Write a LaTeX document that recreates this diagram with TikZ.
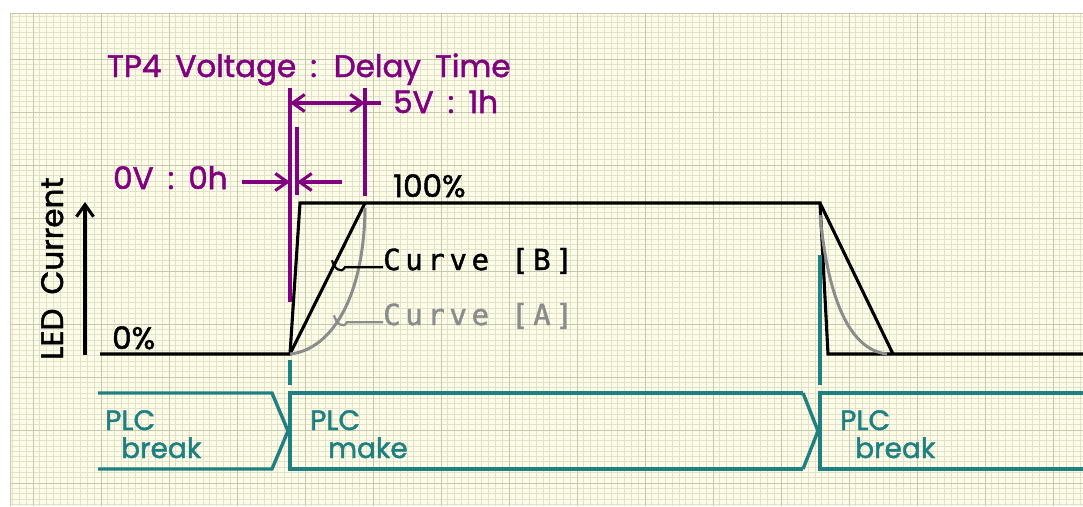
\documentclass[tikz,border=0pt]{standalone}
\usepackage{fontspec}
\setmainfont{Poppins}[FakeBold=1.6, WordSpace=1.7]
\newfontfamily\curvefont{DejaVu Sans Mono}[LetterSpace=16, FakeBold=1.4]
\usetikzlibrary{arrows.meta}
\definecolor{paper}{RGB}{252,252,232}
\definecolor{gridminor}{RGB}{226,226,200}
\definecolor{gridmajor}{RGB}{200,200,174}
\definecolor{dimpurple}{RGB}{128,0,128}
\definecolor{plcteal}{RGB}{30,128,128}
\definecolor{curvegray}{RGB}{140,140,140}
\tikzset{
	lbl/.style={font=\fontsize{31}{34}\selectfont, inner sep=0pt, anchor=base west},
	dimtxt/.style={lbl, text=dimpurple},
	plctxt/.style={lbl, font=\fontsize{28}{31}\selectfont, text=plcteal},
	curvetxt/.style={lbl, font=\curvefont\fontsize{29}{34}\selectfont},
	wave/.style={line width=3.1pt, black},
	slowcurve/.style={line width=3pt, curvegray},
	dimline/.style={line width=3.1pt, dimpurple},
	plcline/.style={line width=3.4pt, plcteal},
	barb/.tip={Straight Barb[length=12pt, width=17pt]}
}
\begin{document}
\begin{tikzpicture}[x=1pt, y=-1pt, line join=miter]
	\useasboundingbox (0,0) rectangle (1083,506);
	% paper
	\fill[paper] (10,13) rectangle (1083,506);
	\foreach \i in {0,...,157} \draw[gridminor, line width=0.8pt] ({12.6+\i*6.8},13) -- ({12.6+\i*6.8},506);
	\foreach \i in {2,...,94} \draw[gridminor, line width=0.8pt] (10,{6+\i*5.3}) -- (1083,{6+\i*5.3});
	\foreach \k in {0,...,15} \draw[gridmajor, line width=1pt] ({33+\k*68},13) -- ({33+\k*68},506);
	\foreach \k in {1,...,9} \draw[gridmajor, line width=1pt] (10,{6+\k*53}) -- (1083,{6+\k*53});
	\draw[gridmajor, line width=1pt] (10,506) |- (1083,13);

	% LED current
	\coordinate (on) at (290,354);
	\coordinate (off) at (820,203);
	\draw[wave] (100,354) -- (on) -- (300,203) -- (off) -- (828,354) -- (1083,354);
	\draw[wave] (on) -- (365,203);
	\draw[wave] (off) -- (893,354);
	\draw[slowcurve] (on) .. controls (330,350) and (364,300) .. (365,208);
	\draw[slowcurve] (820,215) .. controls (828,300) and (850,350) .. (887,354);
	\draw[wave, -barb] (85,355) -- (85,202);
	\node[lbl, rotate=90] (led) at (63,360) {LED Current};
	\node[lbl] (full) at (393,197) {100\%};
	\node[lbl] (zero) at (112,349) {0\%};

	% curve labels
	\node[curvetxt] (cb) at (383,270) {Curve [B]};
	\node[curvetxt, text=curvegray] (ca) at (383,325) {Curve [A]};
	\draw[black, line width=2.2pt] (cb.mid west) -- ++(-38,0) .. controls ++(-4,7) and ++(2,8) .. ++(-13,-7);
	\draw[curvegray, line width=2.2pt] (ca.mid west) -- ++(-36,0) .. controls ++(-4,7) and ++(2,8) .. ++(-13,-7);

	% TP4 voltage / delay
	\node[dimtxt] (tp4) at (107,77) {TP4 Voltage : Delay Time};
	\node[dimtxt] (fivev) at (393,113) {5V : 1h};
	\node[dimtxt] (zerov) at (113,189) {0V : 0h};
	\draw[dimline] (290,88) -- (290,302);
	\draw[dimline] (365,88) -- (365,196);
	\draw[dimline] (297,127) -- (297,195);
	\draw[dimline, barb-barb] (290,103) -- (365,103);
	\draw[dimline] (365,103) -- (381,103);
	\draw[dimline, -barb] (242,182) -- (290,182);
	\draw[dimline, -barb] (342,182) -- (297,182);

	% PLC state
	\draw[plcline] (290,360) -- (290,385);
	\draw[plcline] (820,255) -- (820,385);
	\draw[plcline] (98,393) -- (272,393) -- (288,431) -- (272,469) -- (98,469);
	\draw[plcline] (803,393) -- (290,393) -- (290,469) -- (803,469);
	\draw[plcline] (803,393) -- (818,431) -- (803,469);
	\draw[plcline] (1083,393) -- (820,393) -- (820,469) -- (1083,469);
	\node[plctxt] (plca) at (105,430) {PLC};
	\node[plctxt] (brka) at (121,458) {break};
	\node[plctxt] (plcb) at (310,430) {PLC};
	\node[plctxt] (mkb) at (328,458) {make};
	\node[plctxt] (plcc) at (840,430) {PLC};
	\node[plctxt] (brkc) at (855,458) {break};
\end{tikzpicture}
\end{document}
